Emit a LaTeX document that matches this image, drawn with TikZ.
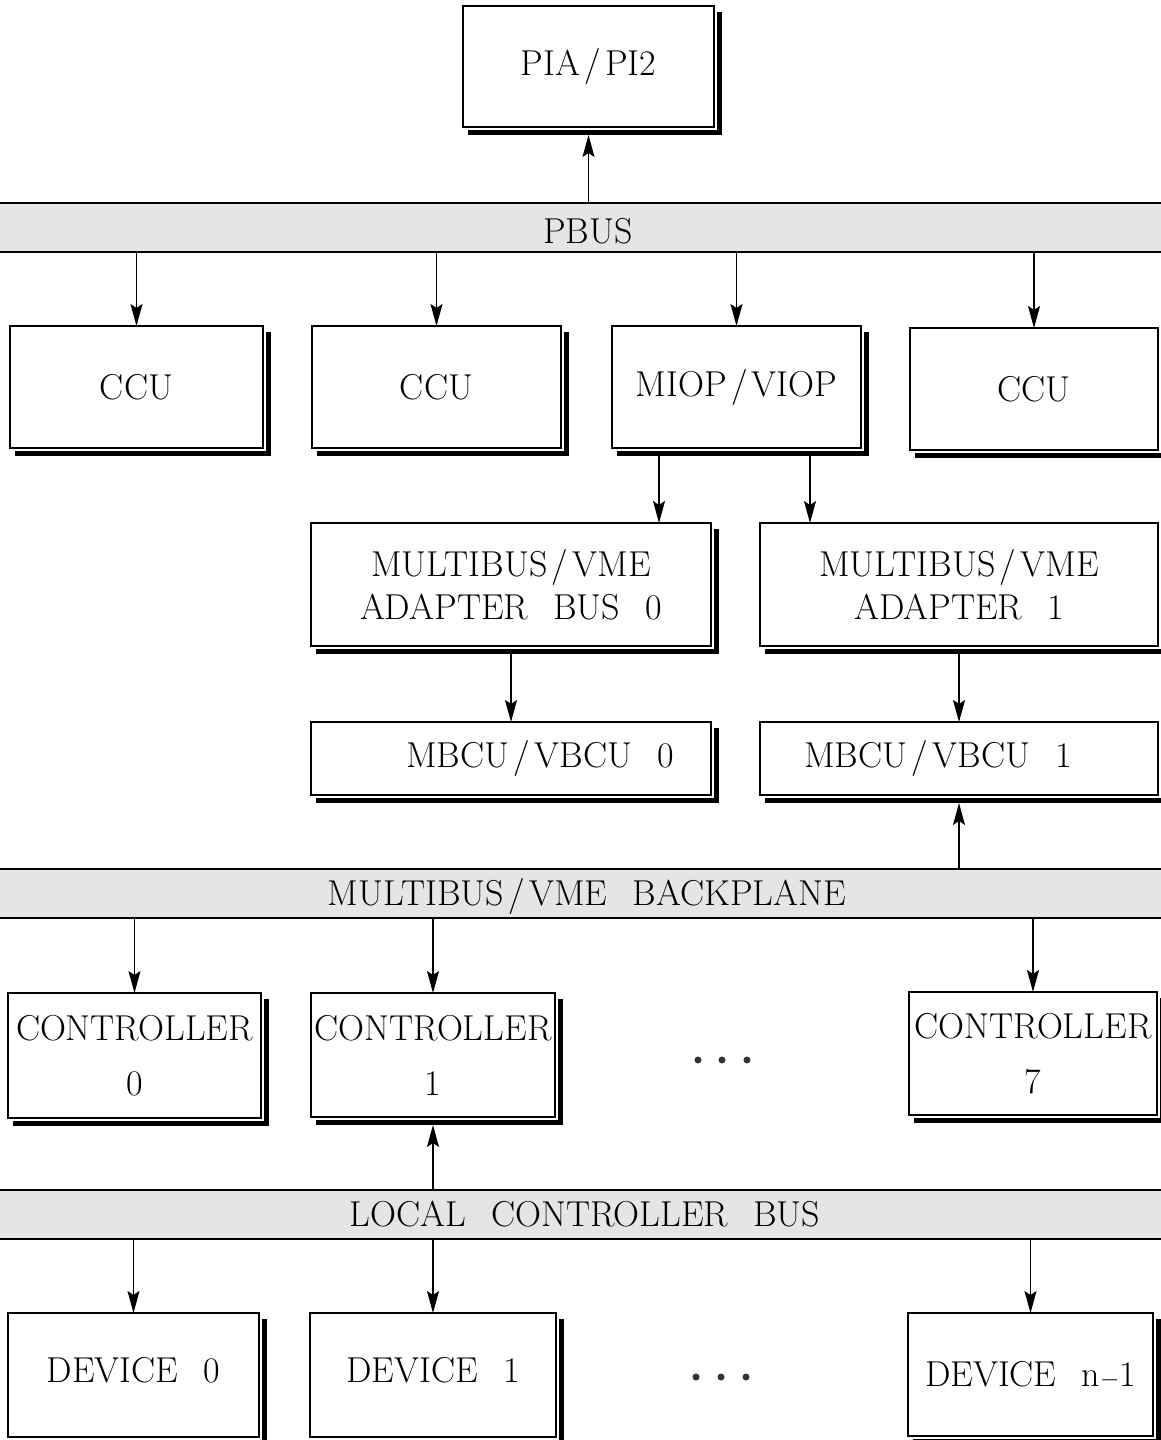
\documentclass[tikz,border=0pt]{standalone}
\usepackage{fontspec}
\usetikzlibrary{arrows.meta}
% wide gap between words, and a slash with a little air on both sides
\newcommand\wsp{\hspace{0.7em}}
\newcommand\slh{\hspace{0.12em}/\hspace{0.12em}}
% invisible depth that lifts a one-line label inside its box
\newcommand\lift[1]{\rule[-#1]{0pt}{#1}}
\begin{document}
\begin{tikzpicture}[x=1pt,y=-1pt,
  font=\fontsize{36}{43}\selectfont\addfontfeatures{LetterSpace=8,FakeBold=0.6},
  blk/.style={draw,line width=1.4pt,rectangle,inner sep=0pt,outer sep=0pt,align=center},
  ctl/.style={font=\fontsize{36}{43}\selectfont\addfontfeatures{FakeBold=0.6}},
  bus/.style={rectangle,fill=black!10,minimum width=1161pt,minimum height=49pt,
              inner sep=0pt,outer sep=0pt},
  buslabel/.style={inner sep=0pt},
  busline/.style={line width=1.5pt},
  arr/.style={line width=1.3pt,-{Stealth[length=22pt,width=12pt,inset=4pt]}},
  dropshadow/.style={line width=5pt},
  ellip/.style={circle,fill=black!80,minimum size=7pt,inner sep=0pt}]
\useasboundingbox (0,0) rectangle (1161,1440);

% ---- buses ----
\node[bus] (pbus) at (580.5,227.5) {};
\node[bus] (vmebp) at (580.5,893.5) {};
\node[bus] (lcb) at (580.5,1214.5) {};
\foreach \b in {pbus,vmebp,lcb}{
  \draw[busline] (\b.north west) -- (\b.north east);
  \draw[busline] (\b.south west) -- (\b.south east);
}
\node[buslabel] (pbusname) at (588,231) {PBUS};
\node[buslabel] (vmebpname) at (587,896) {MULTIBUS\slh VME\wsp BACKPLANE};
\node[buslabel] (lcbname) at (585,1214) {LOCAL\wsp CONTROLLER\wsp BUS};

% ---- processor level ----
\node[blk,minimum width=251pt,minimum height=121pt] (pia) at (588.5,66.5) {PIA\slh PI2};
\node[blk,minimum width=253pt,minimum height=122pt] (ccuA) at (136.5,387) {CCU};
\node[blk,minimum width=249pt,minimum height=122pt] (ccuB) at (436.5,387) {CCU};
\node[blk,minimum width=249pt,minimum height=122pt] (miop) at (736.5,387) {MIOP\slh VIOP};
\node[blk,minimum width=248pt,minimum height=122pt] (ccuD) at (1034,389) {CCU};

% ---- adapters ----
\node[blk,minimum width=400pt,minimum height=123pt] (ad0) at (511,584.5)
  {MULTIBUS\slh VME\\ADAPTER\wsp BUS\wsp 0};
\node[blk,minimum width=398pt,minimum height=123pt] (ad1) at (959,584.5)
  {MULTIBUS\slh VME\\ADAPTER\wsp 1};
\node[blk,minimum width=400pt,minimum height=73pt] (mb0) at (511,758.5)
  {\hspace{58pt}MBCU\slh VBCU\wsp 0};
\node[blk,minimum width=398pt,minimum height=73pt] (mb1) at (959,758.5)
  {MBCU\slh VBCU\wsp 1\hspace{42pt}};

% ---- controllers ----
\node[blk,ctl,minimum width=253pt,minimum height=125pt] (ct0) at (134.5,1055.5)
  {CONTROLLER\\[12pt]0};
\node[blk,ctl,minimum width=244pt,minimum height=124pt] (ct1) at (433,1055)
  {CONTROLLER\\[12pt]1};
\node[blk,ctl,minimum width=248pt,minimum height=123pt] (ct7) at (1033,1053.5)
  {CONTROLLER\\[12pt]7};
\node[ellip] (c1) at (698,1060) {};
\node[ellip] (c2) at (722,1060) {};
\node[ellip] (c3) at (747,1060) {};

% ---- devices ----
\node[blk,minimum width=251pt,minimum height=124pt] (dv0) at (133.5,1375)
  {DEVICE\wsp 0\lift{10pt}};
\node[blk,minimum width=246pt,minimum height=124pt] (dv1) at (433,1375)
  {DEVICE\wsp 1\lift{10pt}};
\node[blk,minimum width=245pt,minimum height=123pt] (dvn) at (1030.5,1374.5)
  {DEVICE\wsp n$-$1};
\node[ellip] (e1) at (696,1377) {};
\node[ellip] (e2) at (721,1377) {};
\node[ellip] (e3) at (746,1377) {};

% ---- heavy shadows on the right and bottom edges ----
\foreach \n in {pia,ccuA,ccuB,miop,ccuD,ad0,ad1,mb0,mb1,ct0,ct1,ct7,dv0,dv1,dvn}{
  \draw[dropshadow] ([xshift=5pt,yshift=-5pt]\n.south west)
     -- ([xshift=5pt,yshift=-5pt]\n.south east)
     -- ([xshift=5pt,yshift=-6pt]\n.north east);
}

% ---- connectors ----
\draw[arr] (pbus.north -| pia.south) -- ([yshift=-8pt]pia.south);
\foreach \n in {ccuA,ccuB,miop,ccuD}
  \draw[arr] (pbus.south -| \n.north) -- (\n.north);

\coordinate (mo0) at ([xshift=-77.5pt,yshift=-7pt]miop.south);
\coordinate (mo1) at ([xshift=73.5pt,yshift=-7pt]miop.south);
\draw[arr] (mo0) -- (mo0 |- ad0.north);
\draw[arr] (mo1) -- (mo1 |- ad1.north);
\draw[arr] ([yshift=-7pt]ad0.south) -- (mb0.north);
\draw[arr] ([yshift=-7pt]ad1.south) -- (mb1.north);

\draw[arr] (vmebp.north -| mb1.south) -- ([yshift=-8pt]mb1.south);
\foreach \n in {ct0,ct1,ct7}
  \draw[arr] (vmebp.south -| \n.north) -- (\n.north);

\draw[arr] (lcb.north -| ct1.south) -- ([yshift=-8pt]ct1.south);
\foreach \n in {dv0,dv1,dvn}
  \draw[arr] (lcb.south -| \n.north) -- (\n.north);
\end{tikzpicture}
\end{document}
